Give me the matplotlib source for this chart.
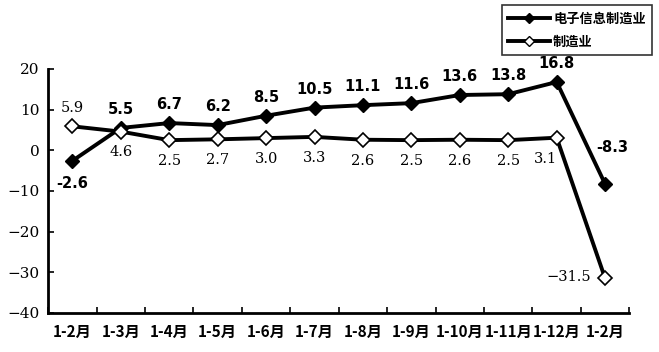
import matplotlib
matplotlib.use("Agg")
import matplotlib.pyplot as plt
from matplotlib.lines import Line2D

plt.rcParams['font.family'] = ['Noto Sans CJK SC', 'DejaVu Sans']

categories = ["1-2月", "1-3月", "1-4月", "1-5月", "1-6月", "1-7月", "1-8月",
              "1-9月", "1-10月", "1-11月", "1-12月", "1-2月"]
electronics = [-2.6, 5.5, 6.7, 6.2, 8.5, 10.5, 11.1, 11.6, 13.6, 13.8, 16.8, -8.3]
manufacturing = [5.9, 4.6, 2.5, 2.7, 3.0, 3.3, 2.6, 2.5, 2.6, 2.5, 3.1, -31.5]
yticks = [-40, -30, -20, -10, 0, 10, 20]
series_names = ["电子信息制造业", "制造业"]

fig = plt.figure(figsize=(6.59, 3.52), dpi=100)
ax = fig.add_axes([0.073, 0.111, 0.882, 0.693])

x = list(range(len(categories)))
ax.plot(x, electronics, color='black', lw=2.8, marker='D', ms=7,
        mfc='black', mec='black', zorder=3)
ax.plot(x, manufacturing, color='black', lw=2.8, marker='D', ms=7,
        mfc='white', mec='black', mew=1.2, zorder=3)

# electronics labels
for i, v in enumerate(electronics):
    if i == 0:
        ax.annotate(f"{v:.1f}", (i, v), xytext=(0, -11), textcoords='offset points',
                    ha='center', va='top', fontsize=10.5, fontweight='bold', family='DejaVu Sans')
    elif i == len(electronics) - 1:
        ax.annotate(f"{v:.1f}", (i, v), xytext=(5, 21), textcoords='offset points',
                    ha='center', va='bottom', fontsize=10.5, fontweight='bold', family='DejaVu Sans')
    else:
        ax.annotate(f"{v:.1f}", (i, v), xytext=(0, 8), textcoords='offset points',
                    ha='center', va='bottom', fontsize=10.5, fontweight='bold', family='DejaVu Sans')

# manufacturing labels
for i, v in enumerate(manufacturing):
    txt = f"{v:.1f}".replace('-', '\u2212')
    if i == 0:
        ax.annotate(txt, (i, v), xytext=(0, 8), textcoords='offset points',
                    ha='center', va='bottom', fontsize=10.5, family='DejaVu Serif')
    elif i == len(manufacturing) - 1:
        ax.annotate(txt, (i, v), xytext=(-10, 1), textcoords='offset points',
                    ha='right', va='center', fontsize=10.5, family='DejaVu Serif')
    elif i == len(manufacturing) - 2:
        ax.annotate(txt, (i, v), xytext=(-8, -10), textcoords='offset points',
                    ha='center', va='top', fontsize=10.5, family='DejaVu Serif')
    else:
        ax.annotate(txt, (i, v), xytext=(0, -10), textcoords='offset points',
                    ha='center', va='top', fontsize=10.5, family='DejaVu Serif')

ax.set_xlim(-0.5, len(categories) - 0.5)
ax.set_ylim(-40, 20)
ax.set_yticks(yticks)
ax.set_yticklabels([str(t).replace('-', '\u2212') for t in yticks],
                   fontsize=11, family='DejaVu Serif')
ax.set_xticks(x)
ax.set_xticklabels(categories, fontsize=11, fontweight='bold')
ax.set_xticks([i + 0.5 for i in range(-1, len(categories))], minor=True)
ax.tick_params(axis='x', which='major', length=0, pad=8)
ax.tick_params(axis='x', which='minor', direction='in', length=4, width=1.2)
ax.tick_params(axis='y', direction='in', length=4, width=1.2, pad=6)

for s in ['top', 'right']:
    ax.spines[s].set_visible(False)
for s in ['left', 'bottom']:
    ax.spines[s].set_linewidth(2)

handles = [
    Line2D([0], [0], color='black', lw=2.8, marker='D', ms=5, mfc='black', mec='black'),
    Line2D([0], [0], color='black', lw=2.8, marker='D', ms=5, mfc='white', mec='black'),
]
leg = fig.legend(handles, series_names, loc='upper right', bbox_to_anchor=(0.99, 0.985),
                 frameon=True, fancybox=False, edgecolor='black',
                 prop={'size': 9.5, 'weight': 'bold'}, handlelength=3.2,
                 borderpad=0.5, labelspacing=0.65, handletextpad=0.2,
                 borderaxespad=0.0)
leg.get_frame().set_linewidth(1.2)
leg.set_zorder(1)

fig.savefig("out.png", dpi=100)
